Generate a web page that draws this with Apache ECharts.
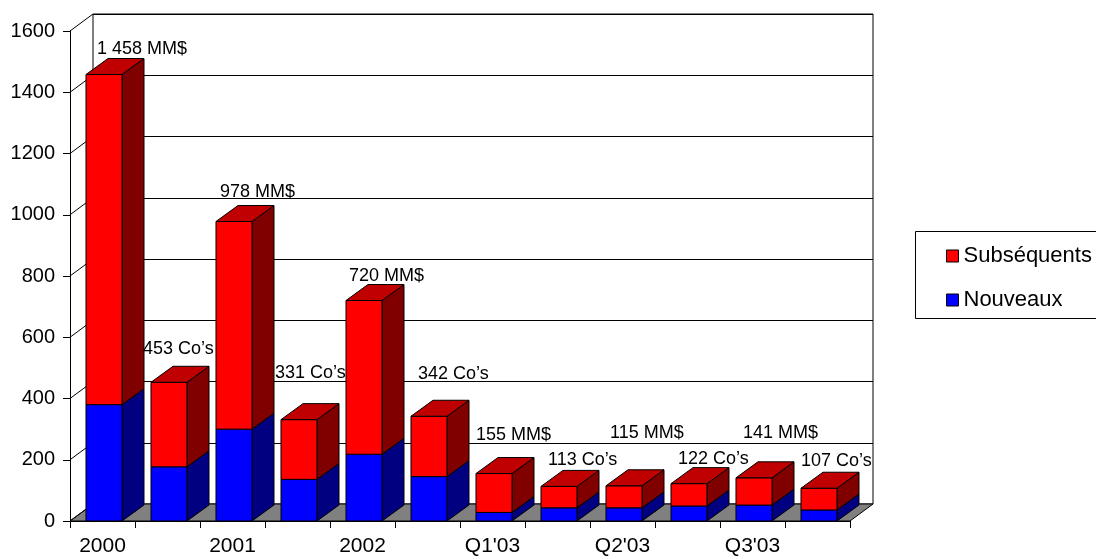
<!DOCTYPE html>
<html>
<head>
<meta charset="utf-8">
<script src="https://cdn.jsdelivr.net/npm/echarts@6/dist/echarts.min.js"></script>
<style>
  html, body { margin: 0; padding: 0; background: #fff; }
  #chart { width: 1096px; height: 559px; }
</style>
</head>
<body>
<div id="chart"></div>
<script>
// Financing per period: dollars raised (MM$) and number of companies (Co's)
const periods = ['2000', '2001', '2002', "Q1'03", "Q2'03", "Q3'03"];
const units = ['MM$', 'Co\u2019s'];
const totals = [1458, 453, 978, 331, 720, 342, 155, 113, 115, 122, 141, 107];
const nouveaux = [380, 177, 300, 136, 218, 145, 28, 43, 43, 49, 52, 36];
const subsequents = [1078, 276, 678, 195, 502, 197, 127, 70, 72, 73, 89, 71];
const yTicks = [0, 200, 400, 600, 800, 1000, 1200, 1400, 1600];

// Layout constants
const FONT = '"Liberation Sans", Arial, sans-serif';
const DEPTH_X = 22, DEPTH_Y = -16;      // bar depth
const WALL_X = 23, WALL_Y = -17;        // wall depth
const GRID = { left: 70, top: 31, width: 780, height: 490 };
// where each value caption sits relative to its bar's front-top-left corner
const labelNudge = [[11, -25], [-8, -33], [4, -29.5], [-6, -47], [3, -24], [7, -42.5],
                    [0, -39], [7, -26], [4, -52.5], [7, -25], [7, -44.5], [0, -27]];

// one slot per (period, unit) pair
const categories = [];
periods.forEach(p => units.forEach(u => categories.push(p + '|' + u)));

const fmt = v => String(v).replace(/\B(?=(\d{3})+(?!\d))/g, ' ');

const nouveauxRows = nouveaux.map((v, i) => [i, 0, v]);
const subsRows = subsequents.map((v, i) => [i, nouveaux[i], nouveaux[i] + v]);
const labelRows = totals.map((v, i) => [i, v]);

function barGeom(api, i, lo, hi) {
  const bw = api.size([1, 0])[0];
  const c = api.coord([i, lo]);
  const t = api.coord([i, hi]);
  const x0 = c[0] - bw * 0.254;
  const w = bw * 0.554;
  return { x0: x0, x1: x0 + w, w: w, yb: c[1], yt: t[1] };
}

function makeBarRenderer(front, top, side, drawTop) {
  return function (params, api) {
    const g = barGeom(api, api.value(0), api.value(1), api.value(2));
    const line = { stroke: '#000', lineWidth: 1 };
    const children = [
      { type: 'polygon', shape: { points: [[g.x1, g.yb], [g.x1 + DEPTH_X, g.yb + DEPTH_Y], [g.x1 + DEPTH_X, g.yt + DEPTH_Y], [g.x1, g.yt]] },
        style: Object.assign({ fill: side }, line) },
      { type: 'rect', shape: { x: g.x0, y: g.yt, width: g.w, height: g.yb - g.yt },
        style: Object.assign({ fill: front }, line) }
    ];
    if (drawTop) {
      children.push({ type: 'polygon', shape: { points: [[g.x0, g.yt], [g.x1, g.yt], [g.x1 + DEPTH_X, g.yt + DEPTH_Y], [g.x0 + DEPTH_X, g.yt + DEPTH_Y]] },
        style: Object.assign({ fill: top }, line) });
    }
    return { type: 'group', children: children };
  };
}

const chart = echarts.init(document.getElementById('chart'), null, { renderer: 'canvas' });

chart.setOption({
  animation: false,
  backgroundColor: '#fff',
  textStyle: { fontFamily: FONT, color: '#000' },
  grid: [
    { left: GRID.left, top: GRID.top, width: GRID.width, height: GRID.height, show: false },
    { left: GRID.left + WALL_X, top: GRID.top + WALL_Y, width: GRID.width, height: GRID.height,
      show: true, borderColor: '#000', borderWidth: 1, backgroundColor: 'transparent' }
  ],
  xAxis: [
    { type: 'category', gridIndex: 0, data: categories, boundaryGap: true,
      axisLine: { lineStyle: { color: '#000', width: 1 } },
      axisTick: { show: true, interval: 0, length: 7, lineStyle: { color: '#000' } },
      axisLabel: { interval: 1, margin: 15, fontSize: 21, color: '#000', fontFamily: FONT,
                   formatter: v => v.split('|')[0] },
      splitLine: { show: false } },
    { type: 'value', gridIndex: 1, min: 0, max: 1, show: false }
  ],
  yAxis: [
    { type: 'value', gridIndex: 0, min: yTicks[0], max: yTicks[yTicks.length - 1], interval: 200,
      axisLine: { show: true, lineStyle: { color: '#000', width: 1 } },
      axisTick: { show: true, length: 7, lineStyle: { color: '#000' } },
      axisLabel: { margin: 15, fontSize: 20, color: '#000', fontFamily: FONT, formatter: v => String(v) },
      splitLine: { show: false } },
    { type: 'value', gridIndex: 1, min: yTicks[0], max: yTicks[yTicks.length - 1], interval: 200,
      axisLine: { show: false }, axisTick: { show: false }, axisLabel: { show: false },
      splitLine: { show: true, lineStyle: { color: '#000', width: 1 } } }
  ],
  legend: {
    data: ['Subséquents', 'Nouveaux'],
    orient: 'vertical', left: 941, top: 239,
    icon: 'rect', itemWidth: 12, itemHeight: 12, itemGap: 20,
    itemStyle: { borderColor: '#000', borderWidth: 1 },
    textStyle: { fontSize: 22, lineHeight: 24, color: '#000', fontFamily: FONT },
    selectedMode: false
  },
  graphic: [
    { type: 'rect', z: 0, shape: { x: 915.5, y: 231.5, width: 200, height: 87 },
      style: { fill: '#fff', stroke: '#000', lineWidth: 1 } }
  ],
  series: [
    { // floor and side-wall edges
      type: 'custom', name: 'frame', xAxisIndex: 0, yAxisIndex: 0, z: 1, silent: true,
      data: [[0, 0]],
      renderItem: function (params, api) {
        const cs = params.coordSys;
        const yb = cs.y + cs.height;
        const children = [
          { type: 'polygon', shape: { points: [[cs.x, yb], [cs.x + cs.width, yb], [cs.x + cs.width + WALL_X, yb + WALL_Y], [cs.x + WALL_X, yb + WALL_Y]] },
            style: { fill: '#808080', stroke: '#000', lineWidth: 1 } }
        ];
        yTicks.forEach(v => {
          const y = api.coord([0, v])[1];
          children.push({ type: 'line', shape: { x1: cs.x, y1: y, x2: cs.x + WALL_X, y2: y + WALL_Y },
            style: { stroke: '#000', lineWidth: 1 } });
        });
        return { type: 'group', children: children };
      }
    },
    {
      type: 'custom', name: 'Nouveaux', xAxisIndex: 0, yAxisIndex: 0, z: 2,
      itemStyle: { color: '#0000FF' },
      encode: { x: 0, y: [1, 2] },
      data: nouveauxRows,
      renderItem: makeBarRenderer('#0000FF', '#0000C0', '#000080', false)
    },
    {
      type: 'custom', name: 'Subséquents', xAxisIndex: 0, yAxisIndex: 0, z: 2,
      itemStyle: { color: '#FF0000' },
      encode: { x: 0, y: [1, 2] },
      data: subsRows,
      renderItem: makeBarRenderer('#FF0000', '#C00000', '#800000', true)
    },
    { // value captions
      type: 'custom', name: 'captions', xAxisIndex: 0, yAxisIndex: 0, z: 3, silent: true,
      encode: { x: 0, y: 1 },
      data: labelRows,
      renderItem: function (params, api) {
        const i = api.value(0), v = api.value(1);
        const bw = api.size([1, 0])[0];
        const c = api.coord([i, v]);
        const x0 = c[0] - bw * 0.254;
        const n = labelNudge[i];
        return {
          type: 'text',
          style: { text: fmt(v) + ' ' + units[i % 2], x: x0 + n[0], y: c[1] + n[1],
                   fill: '#000', fontSize: 18, fontFamily: FONT, align: 'left', verticalAlign: 'middle' }
        };
      }
    }
  ]
});
</script>
</body>
</html>
